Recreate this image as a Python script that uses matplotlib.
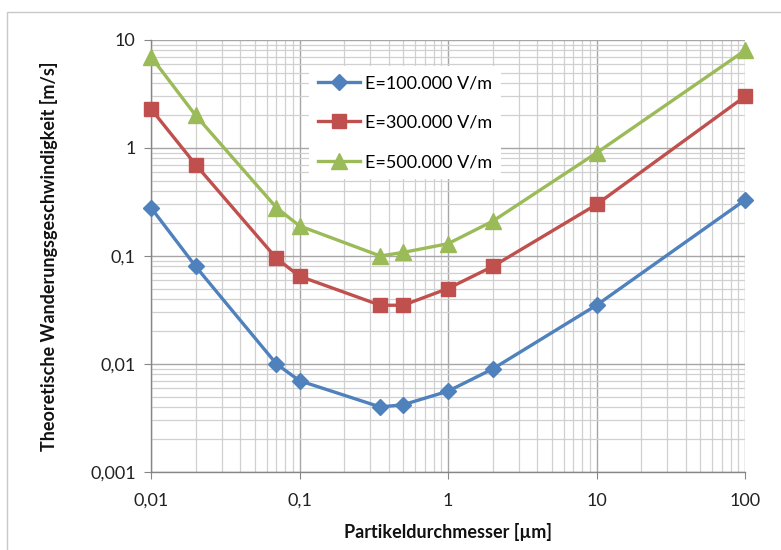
import matplotlib
matplotlib.use("Agg")
import matplotlib.pyplot as plt
from matplotlib.ticker import FixedLocator, LogLocator, NullFormatter
from matplotlib.patches import Rectangle

# Data
diameter = [0.01, 0.02, 0.07, 0.1, 0.35, 0.5, 1, 2, 10, 100]
v_100k = [0.28, 0.08, 0.01, 0.007, 0.004, 0.0042, 0.0056, 0.009, 0.035, 0.33]
v_300k = [2.3, 0.7, 0.095, 0.065, 0.035, 0.035, 0.05, 0.08, 0.3, 3.0]
v_500k = [7.0, 2.0, 0.28, 0.19, 0.1, 0.108, 0.13, 0.21, 0.9, 8.0]
labels = ["E=100.000 V/m", "E=300.000 V/m", "E=500.000 V/m"]
x_ticks = [0.01, 0.1, 1, 10, 100]
x_ticklabels = ["0,01", "0,1", "1", "10", "100"]
y_ticks = [0.001, 0.01, 0.1, 1, 10]
y_ticklabels = ["0,001", "0,01", "0,1", "1", "10"]

plt.rcParams['font.family'] = ['Lato', 'DejaVu Sans']

fig = plt.figure(figsize=(7.81, 5.5), dpi=100)
# chart area border
fig.patches.append(Rectangle((7/781, -0.1), 1.0, 1 - 12/550 + 0.1, transform=fig.transFigure,
                             fill=False, edgecolor='#c8c8c8', linewidth=1.0))

ax = fig.add_axes([151/781, 1 - 472/550, (745 - 151)/781, (472 - 40)/550])
ax.set_xscale('log')
ax.set_yscale('log')
ax.set_xlim(0.01, 100)
ax.set_ylim(0.001, 10)

ax.xaxis.set_major_locator(FixedLocator(x_ticks))
ax.yaxis.set_major_locator(FixedLocator(y_ticks))
ax.set_xticklabels(x_ticklabels)
ax.set_yticklabels(y_ticklabels)
ax.xaxis.set_minor_locator(LogLocator(base=10, subs=range(2, 10), numticks=20))
ax.yaxis.set_minor_locator(LogLocator(base=10, subs=range(2, 10), numticks=20))
ax.xaxis.set_minor_formatter(NullFormatter())
ax.yaxis.set_minor_formatter(NullFormatter())

ax.grid(which='major', color='#a6a6a6', linewidth=1.0)
ax.grid(which='minor', color='#d0d0d0', linewidth=0.9)
ax.set_axisbelow(True)

for s in ['top', 'right']:
    ax.spines[s].set_visible(False)
for s in ['left', 'bottom']:
    ax.spines[s].set_color('#868686')
    ax.spines[s].set_linewidth(1.0)

ax.tick_params(which='major', length=5, color='#868686', labelsize=13, labelcolor='#222222', pad=6)
ax.tick_params(which='minor', length=0)
ax.tick_params(axis='x', pad=10)

ax.plot(diameter, v_100k, color='#4F81BD', lw=2.4, marker='D', ms=8, label=labels[0], zorder=3)
ax.plot(diameter, v_300k, color='#C0504D', lw=2.4, marker='s', ms=10, label=labels[1], zorder=3)
ax.plot(diameter, v_500k, color='#9BBB59', lw=2.4, marker='^', ms=11, label=labels[2], zorder=3)

for ln in ax.lines:
    ln.set_clip_on(False)

leg = ax.legend(loc='upper left', bbox_to_anchor=((300 - 151)/594, (472 - 57)/432),
                frameon=True, fancybox=False, edgecolor='none', facecolor='white', framealpha=1,
                fontsize=13, handlelength=2.3, labelspacing=1.3, borderpad=0.5, handletextpad=0.3)

ax.set_xlabel('Partikeldurchmesser [µm]', fontsize=13, fontweight='bold', labelpad=10, color='#111111')
ax.set_ylabel('Theoretische Wanderungsgeschwindigkeit [m/s]', fontsize=13, fontweight='bold',
              labelpad=23, color='#111111')

fig.savefig('out.png', dpi=100)
